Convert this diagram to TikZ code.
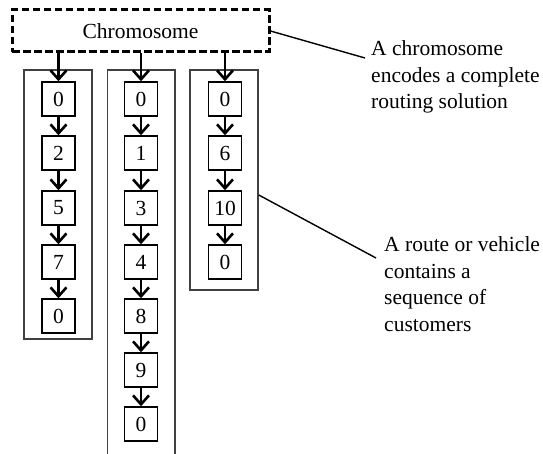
\documentclass[tikz,border=0pt]{standalone}
\usepackage{fontspec}
\setmainfont{Liberation Serif}
\usetikzlibrary{arrows.meta,calc}

\tikzset{
  txt/.style={font=\fontsize{21.5}{26.5}\selectfont},
  gene/.style={draw, line width=1.4pt, minimum width=33pt, minimum height=34pt,
               inner sep=0pt, txt},
  chromobox/.style={draw, line width=3pt, dash pattern=on 7.5pt off 3.5pt,
               minimum width=257pt, minimum height=42pt, inner sep=0pt, txt},
  routebox/.style={draw, line width=1.5pt, draw=black!75, inner sep=0pt},
  link/.style={line width=2.8pt,
               -{Straight Barb[length=9pt,width=16pt,line width=2.6pt]}},
  callout/.style={line width=1.4pt},
  note/.style={txt, align=left, inner sep=0pt, anchor=west}
}

\begin{document}
\begin{tikzpicture}[x=1pt, y=-1pt]
  \useasboundingbox (0,0) rectangle (543,454);

  % the chromosome
  \node[chromobox] (chrom) at (140.5,31) {Chromosome};

  % route containers
  \node[routebox, minimum width=68pt, minimum height=269pt] (col1) at (58,204.5) {};
  \node[routebox, minimum width=68pt, minimum height=220pt] (col3) at (224,180) {};
  \draw[line width=1.5pt, draw=black!75] (107.5,470) -- (107.5,70) -- (175,70) -- (175,470);

  % route 1
  \node[gene] (a1) at (58.5,99)  {0};
  \node[gene] (a2) at (58.5,153) {2};
  \node[gene] (a3) at (58.5,208) {5};
  \node[gene] (a4) at (58.5,262) {7};
  \node[gene] (a5) at (58.5,316) {0};

  % route 2
  \node[gene] (b1) at (141,99)  {0};
  \node[gene] (b2) at (141,153) {1};
  \node[gene] (b3) at (141,208) {3};
  \node[gene] (b4) at (141,262) {4};
  \node[gene] (b5) at (141,316) {8};
  \node[gene] (b6) at (141,370) {9};
  \node[gene] (b7) at (141,424) {0};

  % route 3
  \node[gene] (c1) at (225,99)  {0};
  \node[gene] (c2) at (225,153) {6};
  \node[gene] (c3) at (225,208) {10};
  \node[gene] (c4) at (225,262) {0};

  % chromosome to first gene of each route
  \draw[link] (chrom.south -| a1) -- (a1.north);
  \draw[link] (chrom.south -| b1) -- (b1.north);
  \draw[link] (chrom.south -| c1) -- (c1.north);

  % gene sequences
  \foreach \p/\q in {a1/a2,a2/a3,a3/a4,a4/a5,
                     b1/b2,b2/b3,b3/b4,b4/b5,b5/b6,b6/b7,
                     c1/c2,c2/c3,c3/c4}
    \draw[link] (\p.south) -- (\q.north);

  % annotations
  \coordinate (n1) at (365,58);
  \coordinate (n2) at (376,258);
  \draw[callout] (chrom.east) -- (n1);
  \draw[callout] ([yshift=-15pt]col3.east) -- (n2);

  \node[note] (t1) at (371,77) {A chromosome\\encodes a complete\\routing solution};
  \node[note] (t2) at (384,284) {A route or vehicle\\contains a\\sequence of\\customers};
\end{tikzpicture}
\end{document}
